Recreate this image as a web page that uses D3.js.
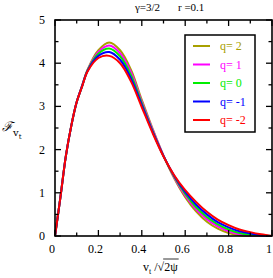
<!DOCTYPE html>
<html>
<head>
<meta charset="utf-8">
<script src="https://cdn.jsdelivr.net/npm/d3@7"></script>
<style>
body { margin: 0; background: #fff; }
text { font-family: "Liberation Serif", "DejaVu Serif", serif; }
</style>
</head>
<body>
<div id="graph"></div>
<script>

// speed grid (v_t / sqrt(2 psi))
var xs = [0,0.025,0.05,0.075,0.1,0.125,0.15,0.2,0.25,0.3,0.35,0.4,0.45,0.5,0.55,0.6,0.65,0.7,0.75,0.8,0.85,0.9,0.95,1];

var q2  = [0,0.9,1.85,2.55,3.1,3.48,3.85,4.3,4.48,4.3,3.85,3.15,2.48,1.86,1.33,0.9,0.57,0.33,0.17,0.07,0.02,0,0,0];
var q1  = [0,0.9,1.85,2.55,3.1,3.48,3.84,4.26,4.41,4.23,3.79,3.11,2.46,1.86,1.35,0.94,0.62,0.39,0.22,0.11,0.04,0.01,0,0];
var q0  = [0,0.9,1.85,2.55,3.1,3.47,3.83,4.22,4.34,4.16,3.72,3.07,2.43,1.85,1.37,0.98,0.67,0.44,0.27,0.15,0.07,0.03,0.01,0];
var qm1 = [0,0.9,1.85,2.55,3.1,3.47,3.82,4.17,4.26,4.08,3.65,3.03,2.41,1.85,1.39,1.02,0.73,0.5,0.32,0.2,0.11,0.06,0.02,0];
var qm2 = [0,0.9,1.85,2.55,3.1,3.46,3.81,4.12,4.17,4.0,3.58,2.98,2.38,1.84,1.4,1.06,0.79,0.56,0.38,0.25,0.15,0.09,0.04,0];

var labels = ["q= 2", "q= 1", "q= 0", "q= -1", "q= -2"];
var colors = ["#a8a000", "#ff00ff", "#00ee00", "#0000ff", "#ff0000"];
var series = [q2, q1, q0, qm1, qm2];

var xTicks = [0, 0.2, 0.4, 0.6, 0.8, 1];
var yTicks = [0, 1, 2, 3, 4, 5];

var width = 273, height = 278;
// note: "top" is taken by window.top, so use other names
var pLeft = 55, pRight = 272, pTop = 20, pBottom = 236;

var vis = d3.select("#graph").append("svg")
  .attr("width", width)
  .attr("height", height);

var x = d3.scaleLinear().domain([0, 1]).range([pLeft, pRight]);
var y = d3.scaleLinear().domain([0, 5]).range([pBottom, pTop]);

// curves
var line = d3.line()
  .x(function(d) { return x(d[0]); })
  .y(function(d) { return y(d[1]); })
  .curve(d3.curveCatmullRom.alpha(0.5));

series.forEach(function(s, i) {
  var pts = xs.map(function(v, j) { return [v, s[j]]; });
  vis.append("path")
    .attr("d", line(pts))
    .style("fill", "none")
    .style("stroke", colors[i])
    .style("stroke-width", 2);
});

// ticks, inward on all sides
var xMinor = d3.range(0, 1.0001, 0.1);
var yMinor = d3.range(0, 5.0001, 0.5);
var tg = vis.append("g").style("stroke", "#000").style("stroke-width", 1.3);
xMinor.forEach(function(v, i) {
  var len = (i % 2 == 0) ? 6 : 3.5;
  tg.append("line").attr("x1", x(v)).attr("x2", x(v)).attr("y1", pBottom).attr("y2", pBottom - len);
  tg.append("line").attr("x1", x(v)).attr("x2", x(v)).attr("y1", pTop).attr("y2", pTop + len);
});
yMinor.forEach(function(v, i) {
  var len = (i % 2 == 0) ? 6 : 3.5;
  tg.append("line").attr("x1", pLeft).attr("x2", pLeft + len).attr("y1", y(v)).attr("y2", y(v));
  tg.append("line").attr("x1", pRight).attr("x2", pRight - len).attr("y1", y(v)).attr("y2", y(v));
});

// frame
vis.append("rect")
  .attr("x", pLeft).attr("y", pTop)
  .attr("width", pRight - pLeft).attr("height", pBottom - pTop)
  .style("fill", "none").style("stroke", "#000").style("stroke-width", 1.6);

// tick labels
vis.selectAll(".xl").data(xTicks).enter().append("text")
  .attr("x", function(d) { return x(d) - 3; })
  .attr("y", 253)
  .attr("text-anchor", "middle")
  .attr("font-size", "12px")
  .text(function(d) { return d; });

vis.selectAll(".yl").data(yTicks).enter().append("text")
  .attr("x", 45)
  .attr("y", function(d) { return y(d) + 4; })
  .attr("text-anchor", "end")
  .attr("font-size", "12px")
  .text(function(d) { return d; });

// title
vis.append("text").attr("x", 135).attr("y", 11).attr("font-size", "11px").text("\u03b3=3/2");
vis.append("text").attr("x", 178).attr("y", 11).attr("font-size", "11px").text("r =0.1");

// y label
var yl = vis.append("text").attr("x", 2).attr("y", 131).attr("font-size", "13px")
  .style("font-family", "DejaVu Serif").style("font-style", "italic");
yl.append("tspan").text("\u2131");
yl.append("tspan").attr("dy", 5).attr("font-size", "10px").style("font-style", "normal").text("v");
yl.append("tspan").attr("dy", 3).attr("font-size", "7px").style("font-style", "normal").text("t");

// x label: v_t / sqrt(2 psi), with the bar over 2psi
var xl = vis.append("text").attr("x", 143).attr("y", 271).attr("font-size", "12px");
xl.append("tspan").text("v");
xl.append("tspan").attr("dy", 3).attr("font-size", "8px").text("t");
xl.append("tspan").attr("dy", -3).text(" /\u221a");
xl.append("tspan").text("2\u03c8");
var nd = xl.node();
var n = nd.getNumberOfChars();
var bx1 = nd.getStartPositionOfChar(n - 2).x;
var bx2 = nd.getEndPositionOfChar(n - 1).x;
vis.append("line").attr("x1", bx1 - 1).attr("x2", bx2 + 1).attr("y1", 259).attr("y2", 259)
  .style("stroke", "#000").style("stroke-width", 0.8);

// legend
var lg = vis.append("g");
lg.append("rect").attr("x", 185).attr("y", 35).attr("width", 70).attr("height", 97)
  .style("fill", "#fff").style("stroke", "#000").style("stroke-width", 1.5);
labels.forEach(function(l, i) {
  var yy = 46 + i * 18.5;
  lg.append("line").attr("x1", 193).attr("x2", 210).attr("y1", yy).attr("y2", yy)
    .style("stroke", colors[i]).style("stroke-width", 2);
  lg.append("text").attr("x", 220).attr("y", yy + 4).attr("font-size", "12px")
    .style("fill", colors[i]).text(l);
});

</script>
</body>
</html>
